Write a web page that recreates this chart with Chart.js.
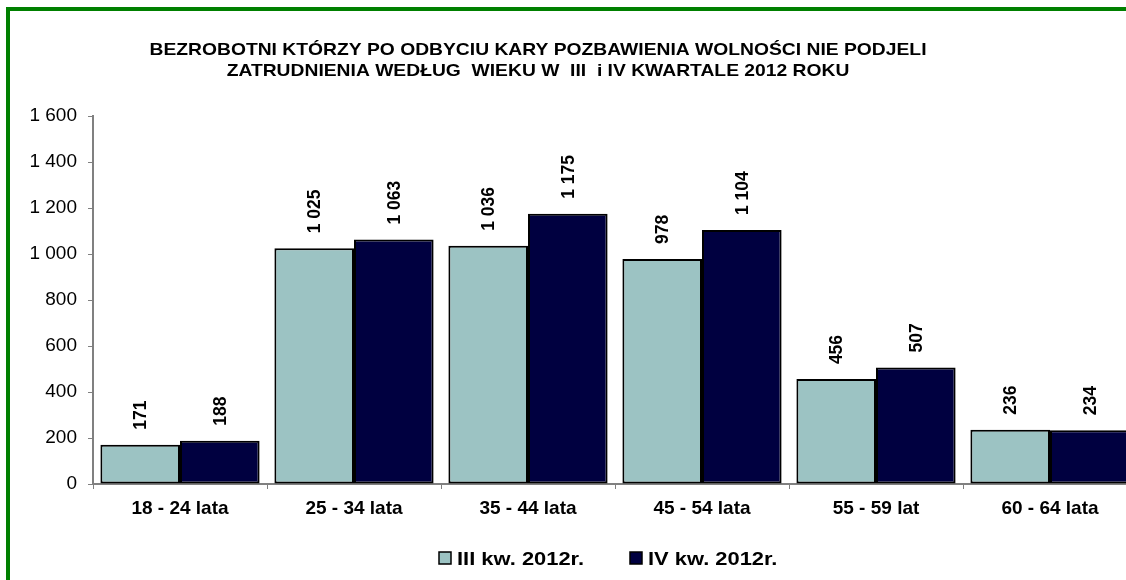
<!DOCTYPE html>
<html>
<head>
<meta charset="utf-8">
<script src="https://cdn.jsdelivr.net/npm/chart.js@4.4.1/dist/chart.umd.min.js"></script>
<style>
	html, body { margin: 0; padding: 0; background: #fff; overflow: hidden; }
	#ramka {
		position: absolute; left: 6px; top: 7px;
		width: 1300px; height: 700px;
		border: 4px solid #008000;
		box-sizing: border-box;
	}
	#wrap { position: absolute; left: 0; top: 0; width: 1150px; height: 580px; }
</style>
</head>
<body>
<div id="ramka"></div>
<div id="wrap"><canvas id="wiekChart"></canvas></div>
<script>
// dane z wykresu
const kategorie = ['18 - 24 lata', '25 - 34 lata', '35 - 44 lata', '45 - 54 lata', '55 - 59 lat', '60 - 64 lata'];
const kw3 = [171, 1025, 1036, 978, 456, 236];
const kw4 = [188, 1063, 1175, 1104, 507, 234];
const nazwySerii = ['III kw. 2012r.', 'IV kw. 2012r.'];
const tytul = [
	'BEZROBOTNI KTÓRZY PO ODBYCIU KARY POZBAWIENIA WOLNOŚCI NIE PODJELI',
	'ZATRUDNIENIA WEDŁUG  WIEKU W  III  i IV KWARTALE 2012 ROKU'
];
const osY = { min: 0, max: 1600, krok: 200 };

const FONT = "'Liberation Sans', Arial, sans-serif";

// format z separatorem tysięcy (spacja)
function fmt(v) {
	return String(v).replace(/\B(?=(\d{3})+(?!\d))/g, ' ');
}

// tekst rozciągnięty w poziomie (oryginał jest nieco szerszy)
function tekstSzeroki(ctx, txt, x, y, sx) {
	ctx.save();
	ctx.translate(x, y);
	ctx.scale(sx, 1);
	ctx.fillText(txt, 0, 0);
	ctx.restore();
}

// tytuł, etykiety nad słupkami i legenda
const dodatki = {
	id: 'dodatki',
	afterDraw(chart) {
		const ctx = chart.ctx;
		ctx.save();
		ctx.fillStyle = '#000';

		// tytuł
		ctx.font = 'bold 17px ' + FONT;
		ctx.textAlign = 'center';
		ctx.textBaseline = 'alphabetic';
		const sxT = 777 / ctx.measureText(tytul[0]).width;
		tekstSzeroki(ctx, tytul[0], 538, 55, sxT);
		tekstSzeroki(ctx, tytul[1], 538, 76, sxT);

		// etykiety wartości (obrócone)
		ctx.font = 'bold 17.5px ' + FONT;
		chart.data.datasets.forEach((ds, i) => {
			chart.getDatasetMeta(i).data.forEach((bar, j) => {
				ctx.save();
				ctx.translate(bar.x, bar.y - 15);
				ctx.rotate(-Math.PI / 2);
				ctx.textAlign = 'left';
				ctx.textBaseline = 'middle';
				ctx.fillText(fmt(ds.data[j]), 0, 1);
				ctx.restore();
			});
		});

		// legenda
		ctx.font = 'bold 18px ' + FONT;
		ctx.textAlign = 'left';
		ctx.textBaseline = 'alphabetic';
		const sxL = 127 / ctx.measureText(nazwySerii[0]).width;
		const startX = [439, 630];
		chart.data.datasets.forEach((ds, i) => {
			const x = startX[i];
			ctx.fillStyle = ds.backgroundColor;
			ctx.fillRect(x, 552, 12, 12);
			ctx.strokeStyle = '#000';
			ctx.lineWidth = 1.5;
			ctx.strokeRect(x, 552, 12, 12);
			ctx.fillStyle = '#000';
			tekstSzeroki(ctx, ds.label, x + 18, 565, sxL);
		});
		ctx.restore();
	}
};

new Chart(document.getElementById('wiekChart'), {
	type: 'bar',
	data: {
		labels: kategorie,
		datasets: [{
			label: nazwySerii[0],
			data: kw3,
			backgroundColor: '#9cc3c3',
			borderColor: '#000',
			borderWidth: 2,
			borderSkipped: false
		}, {
			label: nazwySerii[1],
			data: kw4,
			backgroundColor: '#000040',
			borderColor: '#000',
			borderWidth: 2,
			borderSkipped: false
		}]
	},
	options: {
		responsive: true,
		maintainAspectRatio: false,
		animation: false,
		datasets: {
			bar: { categoryPercentage: 0.915, barPercentage: 1.0 }
		},
		layout: {
			padding: { left: 0, top: 116, right: 13, bottom: 0 }
		},
		plugins: {
			legend: { display: false },
			title: { display: false },
			tooltip: { enabled: false }
		},
		scales: {
			x: {
				afterFit: (s) => { s.height = 96; },
				grid: { drawOnChartArea: false, tickLength: 5, color: '#808080', lineWidth: 1 },
				border: { color: '#808080', width: 2 },
				ticks: {
					color: '#000',
					font: { family: FONT, size: 19, weight: 'bold' },
					padding: 8,
					maxRotation: 0
				}
			},
			y: {
				min: osY.min,
				max: osY.max,
				afterFit: (s) => { s.width = 93; },
				grid: { drawOnChartArea: false, tickLength: 5, color: '#808080', lineWidth: 1 },
				border: { color: '#808080', width: 2 },
				ticks: {
					stepSize: osY.krok,
					color: '#000',
					font: { family: FONT, size: 19 },
					padding: 11,
					callback: (v) => fmt(v)
				}
			}
		}
	},
	plugins: [dodatki]
});
</script>
</body>
</html>
